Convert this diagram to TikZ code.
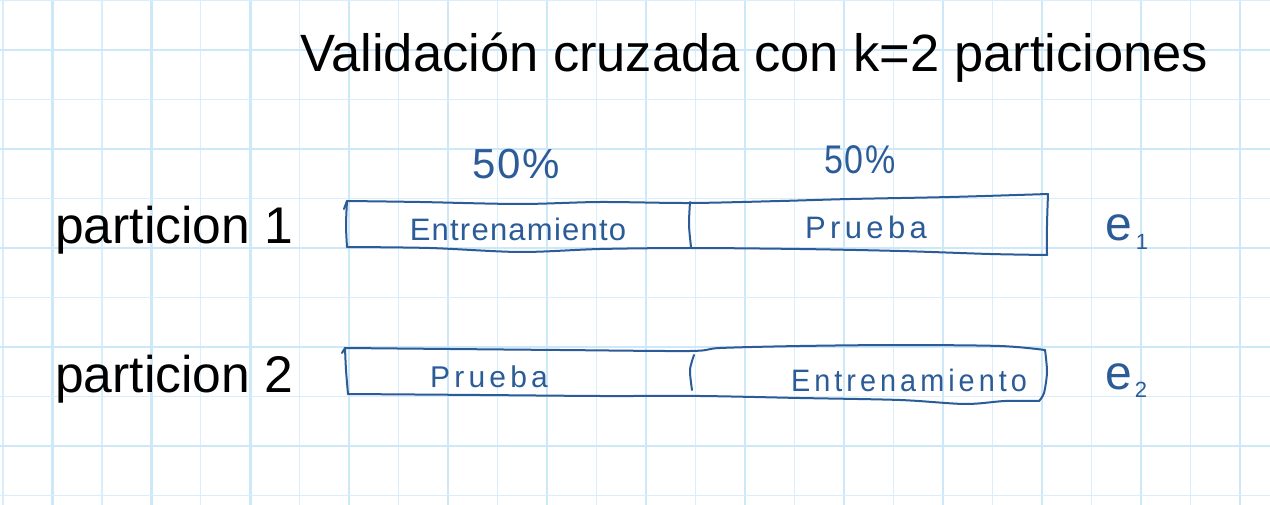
\documentclass[tikz,border=0pt]{standalone}
\usepackage{fontspec}
\setmainfont{Liberation Sans}
\newfontfamily\handfont[LetterSpace=4]{Liberation Sans}
\newfontfamily\handwide[LetterSpace=14]{Liberation Sans}
\definecolor{ink}{HTML}{2B5C97}
\definecolor{gridthin}{HTML}{D8EEFB}
\definecolor{gridthick}{HTML}{CDE8F9}
\tikzset{
  gridthinline/.style={gridthin, line width=1.2pt},
  gridthickline/.style={gridthick, line width=2.4pt},
  hand/.style={ink, line width=2pt, line join=round, line cap=round},
  handtext/.style={ink, inner sep=0pt, anchor=base},
  titletext/.style={black, inner sep=0pt, anchor=base west, font=\fontsize{52.5}{60}\selectfont},
  rowlabel/.style={black, inner sep=0pt, anchor=base west, font=\fontsize{51.6}{60}\selectfont},
}
\begin{document}
\begin{tikzpicture}[x=1pt, y=-1pt]
\useasboundingbox (0,0) rectangle (1270,505);
\fill[white] (0,0) rectangle (1270,505);
% grid
\foreach \k in {0,2,...,24} { \draw[gridthinline] ({3+49.47*\k},0) -- ({3+49.47*\k},505); }
\foreach \k in {1,3,...,25} { \draw[gridthickline] ({3+49.47*\k},0) -- ({3+49.47*\k},505); }
\foreach \yy in {0.5,99.5,198.5,297.5,396.5,495.5} { \draw[gridthinline] (0,\yy) -- (1270,\yy); }
\foreach \yy in {50,149,248,347,446} { \draw[gridthickline] (0,\yy) -- (1270,\yy); }

% title and labels
\node[titletext] (title) at (300,72) {Validación cruzada con k=2 particiones};
\node[rowlabel] (p1) at (55,244) {particion 1};
\node[rowlabel] (p2) at (55,392) {particion 2};

% percentages
\node[handtext, font=\handfont\fontsize{42}{48}\selectfont] (pct1) at (516,179) {50\%};
\node[handtext, font=\handfont\fontsize{40}{48}\selectfont, xscale=0.85] (pct2) at (860,174) {50\%};

% row 1 box
\draw[hand] (344,209) -- (347,201);
\draw[hand] plot[smooth, tension=0.5] coordinates {(347,201) (420,202) (520,204) (600,202) (690,203) (780,201) (850,199) (950,197) (1048,194)};
\draw[hand] plot[smooth, tension=0.5] coordinates {(1048,194) (1047,225) (1047,255)};
\draw[hand] plot[smooth, tension=0.5] coordinates {(1047,255) (990,254) (900,251) (800,249) (690,248) (600,249) (520,252) (430,248) (347,247)};
\draw[hand] plot[smooth, tension=0.5] coordinates {(347,247) (346,225) (347,201)};
\draw[hand] plot[smooth, tension=0.5] coordinates {(690,202) (689,225) (691,247)};
\node[handtext, font=\handfont\fontsize{31}{36}\selectfont] (tr1) at (518,241) {Entrenamiento};
\node[handtext, font=\handwide\fontsize{31}{36}\selectfont] (te1) at (866,239) {Prueba};
\node[handtext, font=\fontsize{48}{50}\selectfont] (e1) at (1119,241) {e};
\node[handtext, font=\fontsize{22}{24}\selectfont] (e1s) at (1142,250) {1};

% row 2 box
\draw[hand] (342,353) -- (345,348);
\draw[hand] plot[smooth, tension=0.5] coordinates {(345,348) (450,349) (560,350) (690,351) (720,348) (800,346) (900,345) (1000,346) (1045,350)};
\draw[hand] plot[smooth, tension=0.5] coordinates {(1045,350) (1047,372) (1044,393) (1039,401)};
\draw[hand] plot[smooth, tension=0.5] coordinates {(1039,401) (1005,401) (965,404) (900,400) (800,398) (700,396) (600,396) (480,395) (348,394)};
\draw[hand] plot[smooth, tension=0.5] coordinates {(348,394) (346,370) (345,348)};
\draw[hand] plot[smooth, tension=0.5] coordinates {(694,355) (690,370) (692,390)};
\node[handtext, font=\handwide\fontsize{30}{36}\selectfont] (te2) at (489,387) {Prueba};
\node[handtext, font=\handwide\fontsize{31}{36}\selectfont, xscale=0.93] (tr2) at (909,391) {Entrenamiento};
\node[handtext, font=\fontsize{48}{50}\selectfont] (e2) at (1119,389) {e};
\node[handtext, font=\fontsize{22}{24}\selectfont] (e2s) at (1141,397) {2};
\end{tikzpicture}
\end{document}
